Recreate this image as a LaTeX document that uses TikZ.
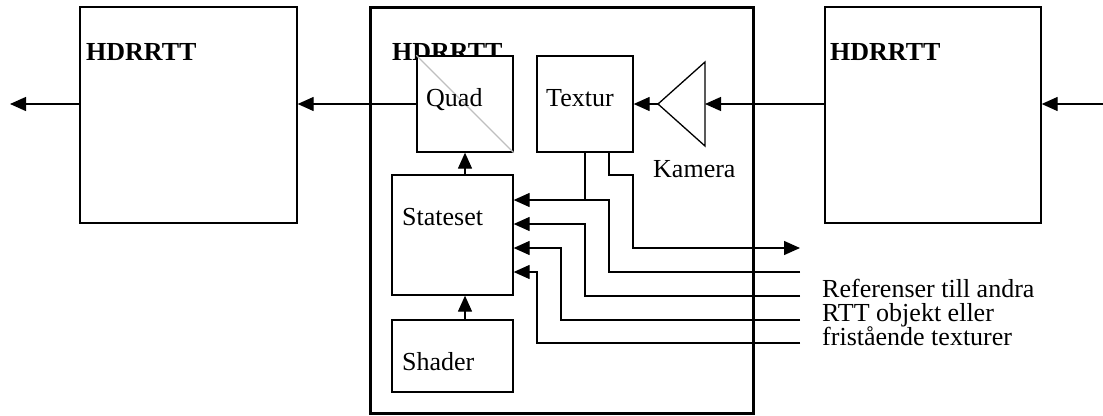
\documentclass[tikz,border=0pt]{standalone}
\usepackage{fontspec}
\setmainfont{Liberation Serif}
\usetikzlibrary{arrows.meta}
\begin{document}
\begin{tikzpicture}[x=1pt,y=-1pt,
  thin line/.style={line width=1.3pt},
  box/.style={draw,thin line,fill=white,inner sep=0pt},
  lbl/.style={inner sep=0pt,anchor=base west,font=\fontsize{26}{28}\selectfont},
  blbl/.style={lbl,font=\fontsize{26}{28}\selectfont\bfseries},
  arr/.style={thin line,-{Triangle[length=16pt,width=14pt]}},
  wire/.style={thin line}]
\useasboundingbox (0,0) rectangle (1103,415);
% outer boxes
\node[box,minimum width=217pt,minimum height=216pt] (leftbox) at (188.5,115) {};
\node[box,minimum width=216pt,minimum height=216pt] (rightbox) at (933,115) {};
\node[draw,line width=3pt,minimum width=383pt,minimum height=406pt,inner sep=0pt] (big) at (561.5,210.5) {};
\node[blbl] (hl) at (86,60) {HDRRTT};
\node[blbl] (hr) at (830,60) {HDRRTT};
\node[blbl] (hm) at (392,60) {HDRRTT};
% inner boxes
\node[box,minimum width=96pt,minimum height=96pt] (quad) at (465,104) {};
\draw[line width=1.3pt,color=black!25] (quad.north west) -- (quad.south east);
\node[box,minimum width=96pt,minimum height=96pt] (textur) at (585,104) {};
\node[box,minimum width=121pt,minimum height=120pt] (stateset) at (452.5,235) {};
\node[box,minimum width=121pt,minimum height=72pt] (shader) at (452.5,356) {};
\node[lbl] (tquad) at (426,106) {Quad};
\node[lbl] (ttex) at (546,106) {Textur};
\node[lbl] (tstate) at (402,225) {Stateset};
\node[lbl] (tshader) at (402,370) {Shader};
\node[lbl] (tkam) at (653,177) {Kamera};
\node[lbl] (tr1) at (822,297) {Referenser till andra};
\node[lbl] (tr2) at (822,321) {RTT objekt eller};
\node[lbl] (tr3) at (822,345) {fristående texturer};
% camera
\coordinate (camtip) at (658,104);
\coordinate (camback) at (705,104);
\draw[thin line,line join=miter] (camtip) -- (705,62) -- (705,146) -- cycle;
% end coordinates
\coordinate (lout) at (10,104);
\coordinate (rin) at (1103,104);
\coordinate (out) at (800,248);
\coordinate (r1) at (800,272);
\coordinate (r2) at (800,296);
\coordinate (r3) at (800,320);
\coordinate (r4) at (800,343);
% connectors
\draw[arr] (leftbox.west |- lout) -- (lout);
\draw[arr] (quad.west) -- (quad.west -| leftbox.east);
\draw[arr] (rin) -- (rin -| rightbox.east);
\draw[arr] (rightbox.west |- camback) -- (camback);
\draw[arr] (camtip) -- (textur.east);
\draw[arr] (stateset.north -| quad.south) -- (quad.south);
\draw[arr] (shader.north -| quad.south) -- (stateset.south -| quad.south);
\draw[arr] (textur.south -| 609,0) -- (609,175) -- (633,175) -- (633,248) -- (out);
\draw[wire] (textur.south) -- (585,200);
\draw[arr] (r1) -- (609,272) -- (609,200) -- (stateset.east |- 0,200);
\draw[arr] (r2) -- (585,296) -- (585,224) -- (stateset.east |- 0,224);
\draw[arr] (r3) -- (561,320) -- (561,248) -- (stateset.east |- 0,248);
\draw[arr] (r4) -- (537,343) -- (537,272) -- (stateset.east |- 0,272);
\end{tikzpicture}
\end{document}
